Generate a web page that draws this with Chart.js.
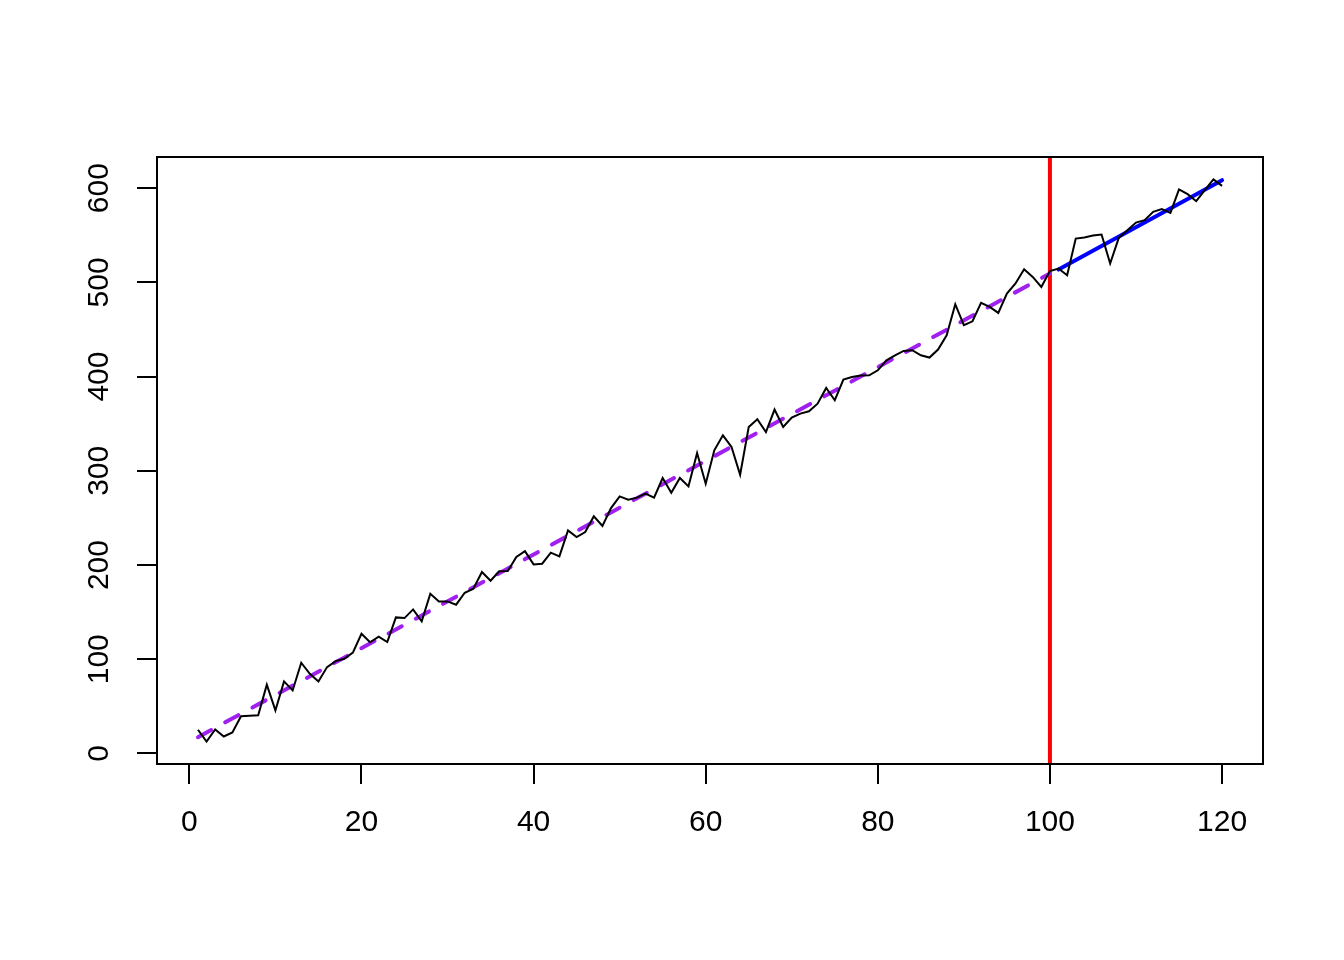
<!DOCTYPE html>
<html>
<head>
<meta charset="utf-8">
<script src="https://cdn.jsdelivr.net/npm/chart.js@4.4.1/dist/chart.umd.min.js"></script>
<style>
body { margin: 0; background: #fff; }
canvas { display: block; }
</style>
</head>
<body>
<canvas id="tsChart" width="1344" height="960"></canvas>
<script>
// observed series, t = 1..120
let series = [
25.2,12.7,25.5,18,22.3,39.6,40,40.5,73,45.7,
76.5,66.9,96.3,84.6,76.5,91.7,98,100.5,107,127,
118,123.9,118.2,144.4,143.7,152.9,140.2,169.6,161.4,161.4,
157.9,170.6,174.9,192.6,183.4,193.3,193.6,208.5,214.8,200.7,
201.4,213.1,209.2,236.8,229.7,235,251.7,241.4,260.5,272.9,
269.4,271.5,275.8,271.5,292.4,276.8,292.4,283.5,318.9,286.3,
321.8,337.7,325.3,295.9,346.5,354.7,341.2,365,346.5,356.5,
360.7,363.2,371.3,388,374.9,396.8,399.6,401.1,401.4,406.7,
417.3,422.6,427.2,428,422.6,420.2,428.7,443.9,476.8,454.5,
458.7,478.2,474,467.6,488.1,498.8,514,505.8,495.2,512,
514.7,507.6,546.5,547.6,549.7,550.8,520,547.2,555.4,563.5,
566,574.8,577.7,573.8,598.6,593.6,586.2,597.9,609.2,602.4
];

// fitted trend on 1..100 and forecast line on 101..120
let trendX = [1, 100];
let trendY = [17.3, 509.4];
let forecastX = [101, 120];
let forecastY = [513.6, 608.5];
let cutX = 100;

let xTicks = [0, 20, 40, 60, 80, 100, 120];
let yTicks = [0, 100, 200, 300, 400, 500, 600];

// R style axis limits (4% extension)
let xmin = 1, xmax = series.length;
let ymin = Math.min(...series), ymax = Math.max(...series);
let xlim = [xmin - 0.04 * (xmax - xmin), xmax + 0.04 * (xmax - xmin)];
let ylim = [ymin - 0.04 * (ymax - ymin), ymax + 0.04 * (ymax - ymin)];

let fontFam = "'Liberation Sans', Arial, Helvetica, sans-serif";

const boxPlugin = {
  id: 'rbox',
  afterDraw(chart) {
    const ctx = chart.ctx;
    const a = chart.chartArea;
    ctx.save();
    ctx.strokeStyle = '#000';
    ctx.lineWidth = 2;
    ctx.strokeRect(a.left, a.top, a.right - a.left, a.bottom - a.top);
    // rotated y labels like R
    const ys = chart.scales.y;
    ctx.fillStyle = '#000';
    ctx.font = '30px ' + fontFam;
    ctx.textAlign = 'center';
    ctx.textBaseline = 'middle';
    yTicks.forEach(v => {
      const py = ys.getPixelForValue(v);
      ctx.save();
      ctx.translate(100, py);
      ctx.rotate(-Math.PI / 2);
      ctx.fillText(String(v), 0, 0);
      ctx.restore();
    });
    ctx.restore();
  }
};

const ctx = document.getElementById('tsChart').getContext('2d');
new Chart(ctx, {
  type: 'line',
  data: {
    datasets: [
      {
        data: series.map((v, i) => ({ x: i + 1, y: v })),
        borderColor: '#000',
        borderWidth: 2,
        pointRadius: 0,
        tension: 0
      },
      {
        data: trendX.map((v, i) => ({ x: v, y: trendY[i] })),
        borderColor: '#A020F0',
        borderWidth: 4,
        borderDash: [15, 16],
        borderCapStyle: 'round',
        pointRadius: 0
      },
      {
        data: forecastX.map((v, i) => ({ x: v, y: forecastY[i] })),
        borderColor: '#0000FF',
        borderWidth: 4,
        borderCapStyle: 'round',
        pointRadius: 0
      },
      {
        data: [{ x: cutX, y: ylim[0] }, { x: cutX, y: ylim[1] }],
        borderColor: '#FF0000',
        borderWidth: 4,
        pointRadius: 0
      }
    ]
  },
  options: {
    responsive: false,
    animation: false,
    devicePixelRatio: 1,
    layout: { padding: { left: 57, top: 157, right: 81, bottom: 96 } },
    plugins: { legend: { display: false }, tooltip: { enabled: false } },
    scales: {
      x: {
        type: 'linear',
        min: xlim[0],
        max: xlim[1],
        afterBuildTicks: s => { s.ticks = xTicks.map(v => ({ value: v })); },
        afterFit: s => { s.height = 100; },
        border: { display: false },
        grid: { drawOnChartArea: false, drawTicks: true, tickLength: 20, color: '#000', lineWidth: 2 },
        ticks: { color: '#000', padding: 21, maxRotation: 0, autoSkip: false, font: { size: 30, family: fontFam } }
      },
      y: {
        type: 'linear',
        min: ylim[0],
        max: ylim[1],
        afterBuildTicks: s => { s.ticks = yTicks.map(v => ({ value: v })); },
        afterFit: s => { s.width = 100; },
        border: { display: false },
        grid: { drawOnChartArea: false, drawTicks: true, tickLength: 20, color: '#000', lineWidth: 2 },
        ticks: { display: false }
      }
    }
  },
  plugins: [boxPlugin]
});
</script>
</body>
</html>
